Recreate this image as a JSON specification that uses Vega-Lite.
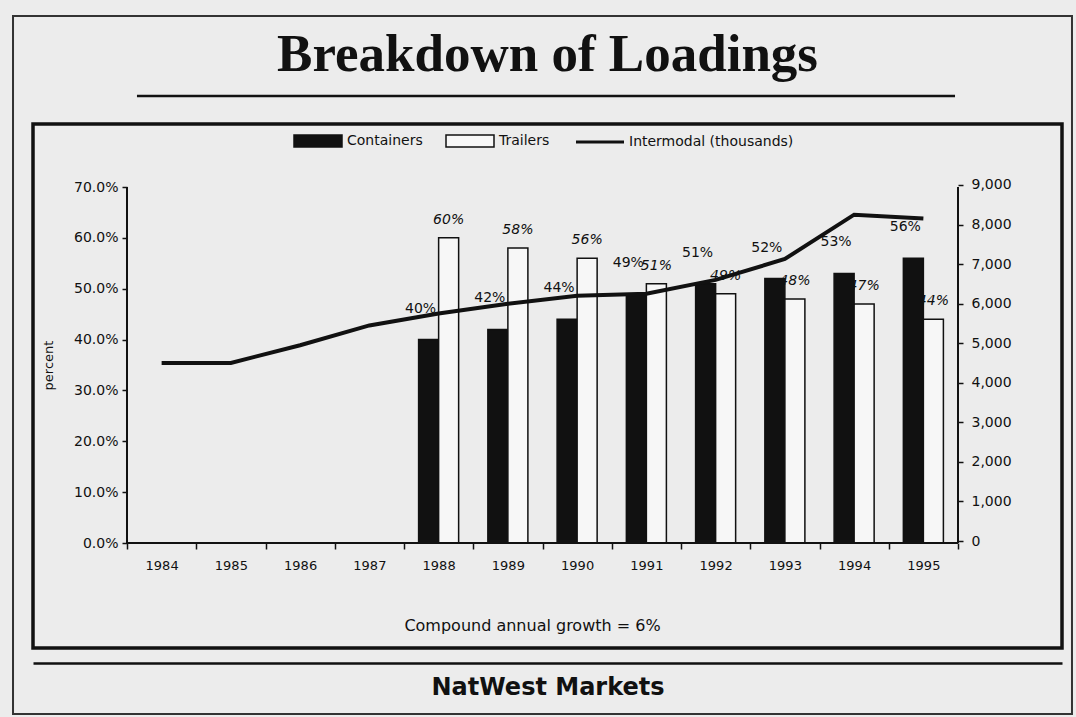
{
  "$schema": "https://vega.github.io/schema/vega-lite/v6.json",
  "width": 1029,
  "height": 524,
  "autosize": {"type": "none"},
  "padding": {"left": 33, "top": 124, "right": 14, "bottom": 69},
  "background": "#ececec",
  "title": {
    "text": "Breakdown of Loadings",
    "font": "Liberation Serif",
    "fontSize": 53,
    "fontWeight": "bold",
    "color": "#111111",
    "anchor": "middle",
    "frame": "group",
    "baseline": "alphabetic",
    "offset": -109
  },
  "datasets": {
    "shares": [
      {"year": "1988", "series": "Containers", "share": 0.40},
      {"year": "1988", "series": "Trailers", "share": 0.60},
      {"year": "1989", "series": "Containers", "share": 0.42},
      {"year": "1989", "series": "Trailers", "share": 0.58},
      {"year": "1990", "series": "Containers", "share": 0.44},
      {"year": "1990", "series": "Trailers", "share": 0.56},
      {"year": "1991", "series": "Containers", "share": 0.49},
      {"year": "1991", "series": "Trailers", "share": 0.51},
      {"year": "1992", "series": "Containers", "share": 0.51},
      {"year": "1992", "series": "Trailers", "share": 0.49},
      {"year": "1993", "series": "Containers", "share": 0.52},
      {"year": "1993", "series": "Trailers", "share": 0.48},
      {"year": "1994", "series": "Containers", "share": 0.53},
      {"year": "1994", "series": "Trailers", "share": 0.47},
      {"year": "1995", "series": "Containers", "share": 0.56},
      {"year": "1995", "series": "Trailers", "share": 0.44}
    ],
    "intermodal": [
      {"year": "1984", "thousands": 4500},
      {"year": "1985", "thousands": 4500},
      {"year": "1986", "thousands": 4950},
      {"year": "1987", "thousands": 5450},
      {"year": "1988", "thousands": 5750},
      {"year": "1989", "thousands": 6000},
      {"year": "1990", "thousands": 6200},
      {"year": "1991", "thousands": 6250},
      {"year": "1992", "thousands": 6600},
      {"year": "1993", "thousands": 7130},
      {"year": "1994", "thousands": 8250},
      {"year": "1995", "thousands": 8150}
    ],
    "frame": [{}]
  },
  "layer": [
    {
      "data": {"name": "shares"},
      "encoding": {
        "x": {
          "field": "year",
          "type": "nominal",
          "scale": {
            "type": "band",
            "domain": ["1984", "1985", "1986", "1987", "1988", "1989", "1990", "1991", "1992", "1993", "1994", "1995"],
            "range": [94, 925],
            "paddingInner": 0,
            "paddingOuter": 0
          },
          "axis": {
            "orient": "bottom",
            "offset": -105,
            "domain": false,
            "grid": false,
            "tickBand": "extent",
            "tickSize": 6,
            "tickColor": "#111111",
            "tickWidth": 1.5,
            "labelAngle": 0,
            "labelFont": "DejaVu Sans",
            "labelFontSize": 13,
            "labelColor": "#111111",
            "labelPadding": 10,
            "title": "Compound annual growth = 6%",
            "titleFont": "DejaVu Sans",
            "titleFontSize": 16,
            "titleFontWeight": "normal",
            "titleColor": "#111111",
            "titlePadding": 45,
            "titleX": 499
          }
        },
        "xOffset": {
          "field": "series",
          "type": "nominal",
          "scale": {"domain": ["Containers", "Trailers"], "paddingInner": 0, "paddingOuter": 0.73}
        },
        "y": {
          "field": "share",
          "type": "quantitative",
          "scale": {"domain": [-0.20646, 0.82388], "nice": false, "zero": false},
          "axis": {
            "orient": "left",
            "offset": -94,
            "values": [0, 0.1, 0.2, 0.3, 0.4, 0.5, 0.6, 0.7],
            "format": ".1%",
            "domain": false,
            "grid": false,
            "tickSize": 5,
            "tickColor": "#111111",
            "tickWidth": 1.5,
            "labelFont": "DejaVu Sans",
            "labelFontSize": 14,
            "labelColor": "#111111",
            "labelPadding": 4,
            "title": "percent",
            "titleFont": "DejaVu Sans",
            "titleFontSize": 13,
            "titleFontWeight": "normal",
            "titleColor": "#111111",
            "titlePadding": 18,
            "titleY": 241
          }
        }
      },
      "layer": [
        {
          "mark": {"type": "bar", "stroke": "#111111", "strokeWidth": 1.5},
          "encoding": {
            "fill": {
              "field": "series",
              "type": "nominal",
              "scale": {
                "domain": ["Containers", "Trailers", "Intermodal (thousands)"],
                "range": ["#111111", "#f7f7f7", "#111111"]
              },
              "legend": {
                "orient": "none",
                "legendX": 278,
                "legendY": 10,
                "direction": "horizontal",
                "title": null,
                "symbolSize": 144,
                "symbolStrokeColor": "#111111",
                "symbolStrokeWidth": 1.5,
                "labelFont": "DejaVu Sans",
                "labelFontSize": 14,
                "labelColor": "#111111",
                "labelOffset": 22,
                "labelLimit": 400,
                "columnPadding": 20,
                "encode": {
                  "symbols": {
                    "update": {
                      "shape": {"signal": "datum.value === 'Intermodal (thousands)' ? 'M-4,0H4' : 'M-4,-1H4V1H-4Z'"},
                      "strokeWidth": {"signal": "datum.value === 'Intermodal (thousands)' ? 3 : 1.5"}
                    }
                  }
                }
              }
            }
          }
        },
        {
          "transform": [{"filter": "datum.series === 'Containers'"}],
          "mark": {"type": "text", "dx": -8, "dy": -31, "baseline": "middle", "font": "DejaVu Sans", "fontSize": 14, "fill": "#111111"},
          "encoding": {"text": {"field": "share", "type": "quantitative", "format": ".0%"}}
        },
        {
          "transform": [{"filter": "datum.series === 'Trailers'"}],
          "mark": {"type": "text", "dx": 0, "dy": -18, "baseline": "middle", "font": "DejaVu Sans", "fontSize": 14, "fontStyle": "italic", "fill": "#111111"},
          "encoding": {"text": {"field": "share", "type": "quantitative", "format": ".0%"}}
        }
      ]
    },
    {
      "data": {"name": "intermodal"},
      "mark": {"type": "line", "stroke": "#111111", "strokeWidth": 4},
      "encoding": {
        "x": {
          "field": "year",
          "type": "nominal",
          "scale": {
            "type": "band",
            "domain": ["1984", "1985", "1986", "1987", "1988", "1989", "1990", "1991", "1992", "1993", "1994", "1995"],
            "range": [94, 925],
            "paddingInner": 0,
            "paddingOuter": 0
          },
          "axis": null
        },
        "y": {
          "field": "thousands",
          "type": "quantitative",
          "scale": {"domain": [-2705, 10542], "nice": false, "zero": false},
          "axis": {
            "orient": "right",
            "offset": -104,
            "values": [0, 1000, 2000, 3000, 4000, 5000, 6000, 7000, 8000, 9000],
            "format": ",.0f",
            "domain": false,
            "grid": false,
            "tickSize": 5,
            "tickColor": "#111111",
            "tickWidth": 1.5,
            "labelFont": "DejaVu Sans",
            "labelFontSize": 14,
            "labelColor": "#111111",
            "labelPadding": 8,
            "title": null
          }
        }
      }
    },
    {
      "data": {"name": "frame"},
      "encoding": {
        "x": {
          "datum": 0,
          "type": "quantitative",
          "scale": {"domain": [-1.3574, 13.5018], "nice": false, "zero": false},
          "axis": {
            "orient": "bottom",
            "offset": 15,
            "domain": true,
            "domainColor": "#111111",
            "domainWidth": 2.5,
            "ticks": false,
            "labels": false,
            "grid": false,
            "title": "NatWest Markets",
            "titleFont": "DejaVu Sans",
            "titleFontSize": 24,
            "titleFontWeight": "bold",
            "titleColor": "#111111",
            "titlePadding": 12
          }
        },
        "y": {
          "datum": 0,
          "type": "quantitative",
          "scale": {"domain": [-0.20646, 0.82388], "nice": false, "zero": false},
          "axis": null
        }
      },
      "layer": [
        {
          "mark": {"type": "rule", "stroke": "#111111", "strokeWidth": 2},
          "encoding": {"x2": {"datum": 12}}
        },
        {
          "mark": {"type": "rule", "stroke": "#111111", "strokeWidth": 2},
          "encoding": {"y2": {"datum": 0.7}}
        },
        {
          "mark": {"type": "rule", "stroke": "#111111", "strokeWidth": 2},
          "encoding": {"x": {"datum": 12, "type": "quantitative"}, "y2": {"datum": 0.7}}
        },
        {
          "mark": {"type": "rule", "stroke": "#111111", "strokeWidth": 2.5},
          "encoding": {"x": {"datum": 0.144, "type": "quantitative"}, "x2": {"datum": 11.957}, "y": {"datum": 0.8789, "type": "quantitative"}}
        },
        {
          "mark": {"type": "rect", "fill": null, "stroke": "#333333", "strokeWidth": 2},
          "encoding": {
            "x": {"datum": -1.646, "type": "quantitative"},
            "x2": {"datum": 13.646},
            "y": {"datum": 1.0362, "type": "quantitative"},
            "y2": {"datum": -0.3362}
          }
        }
      ]
    }
  ],
  "resolve": {"scale": {"x": "independent", "y": "independent"}},
  "config": {
    "view": {"stroke": "#111111", "strokeWidth": 3.5},
    "axis": {"grid": false}
  }
}
